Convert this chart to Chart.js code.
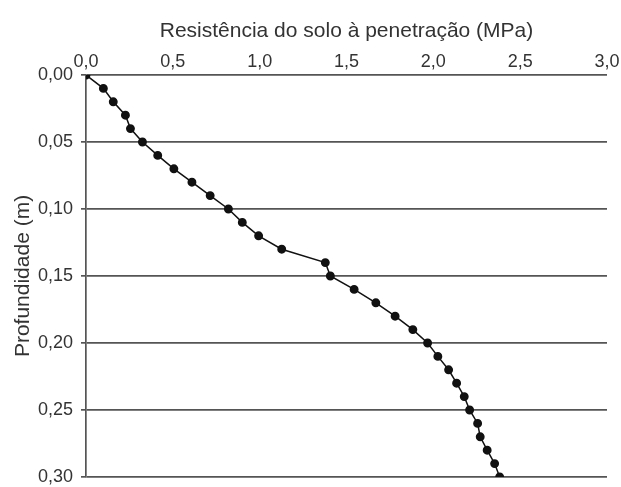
<!DOCTYPE html>
<html>
<head>
<meta charset="utf-8">
<script src="https://cdn.jsdelivr.net/npm/chart.js@4.4.0/dist/chart.umd.min.js"></script>
<style>
  body { margin: 0; background: #fff; }
  #box { width: 621px; height: 487px; }
</style>
</head>
<body>
<div id="box"><canvas id="myChart"></canvas></div>
<script>
    // profundidade (m) e resistencia (MPa)
    var depth = [0.00, 0.01, 0.02, 0.03, 0.04, 0.05, 0.06, 0.07, 0.08, 0.09, 0.10,
                 0.11, 0.12, 0.13, 0.14, 0.15, 0.16, 0.17, 0.18, 0.19, 0.20,
                 0.21, 0.22, 0.23, 0.24, 0.25, 0.26, 0.27, 0.28, 0.29, 0.30];
    var resist = [0.00, 0.10, 0.157, 0.227, 0.256, 0.325, 0.413, 0.506, 0.61, 0.715, 0.82,
                  0.90, 0.994, 1.127, 1.378, 1.407, 1.544, 1.669, 1.78, 1.882, 1.967,
                  2.026, 2.088, 2.134, 2.178, 2.209, 2.255, 2.27, 2.31, 2.353, 2.382];
    var xTicks = [0, 0.5, 1.0, 1.5, 2.0, 2.5, 3.0];
    var yTicks = [0, 0.05, 0.10, 0.15, 0.20, 0.25, 0.30];

    var points = [];
    for (var i = 0; i < depth.length; i++) {
        points.push({x: resist[i], y: depth[i]});
    }

    var fontName = "'Liberation Sans', Arial, sans-serif";
    var txt = "#333";
    var gridCol = "#555";

    var ctx = document.getElementById("myChart").getContext("2d");
    var myChart = new Chart(ctx, {
        type: "scatter",
        data: {
            datasets: [{
                data: points,
                showLine: true,
                borderColor: "#111",
                borderWidth: 1.5,
                backgroundColor: "#111",
                pointRadius: 3.7,
                pointHoverRadius: 3.7,
                tension: 0
            }]
        },
        options: {
            responsive: true,
            maintainAspectRatio: false,
            animation: false,
            layout: { padding: { left: 0, right: 14, top: 0, bottom: 10 } },
            plugins: { legend: { display: false }, tooltip: { enabled: false } },
            scales: {
                x: {
                    type: "linear",
                    position: "top",
                    min: 0,
                    max: 3,
                    afterBuildTicks: function (s) {
                        s.ticks = xTicks.map(function (v) { return {value: v}; });
                    },
                    afterFit: function (s) {
                        s.height = 75;
                        s.paddingLeft = 0;
                        s.paddingRight = 0;
                    },
                    grid: { display: false, drawTicks: false },
                    border: { display: false },
                    ticks: {
                        color: txt,
                        font: { family: fontName, size: 18, lineHeight: 1 },
                        padding: 4,
                        maxRotation: 0,
                        callback: function (v) { return v.toFixed(1).replace(".", ","); }
                    },
                    title: {
                        display: true,
                        text: "Resistência do solo à penetração (MPa)",
                        color: txt,
                        font: { family: fontName, size: 21 },
                        padding: { top: 19, bottom: 2 }
                    }
                },
                y: {
                    type: "linear",
                    reverse: true,
                    min: 0,
                    max: 0.3,
                    afterBuildTicks: function (s) {
                        s.ticks = yTicks.map(function (v) { return {value: v}; });
                    },
                    afterFit: function (s) {
                        s.width = 86;
                        s.paddingTop = 0;
                        s.paddingBottom = 0;
                    },
                    grid: {
                        color: gridCol,
                        lineWidth: 1.7,
                        tickLength: 5,
                        drawTicks: true
                    },
                    border: { display: true, color: gridCol, width: 1.7 },
                    ticks: {
                        color: txt,
                        font: { family: fontName, size: 18, lineHeight: 1 },
                        padding: 8,
                        callback: function (v) { return v.toFixed(2).replace(".", ","); }
                    },
                    title: {
                        display: true,
                        text: "Profundidade (m)",
                        color: txt,
                        font: { family: fontName, size: 21 },
                        padding: { top: 11, bottom: 4 }
                    }
                }
            }
        }
    });
</script>
</body>
</html>
